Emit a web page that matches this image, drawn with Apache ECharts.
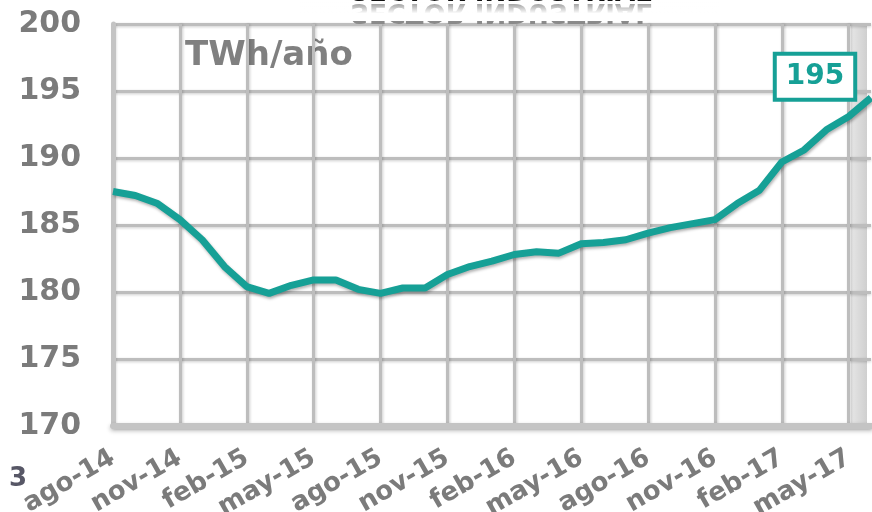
<!DOCTYPE html>
<html>
<head>
<meta charset="utf-8">
<script src="https://cdn.jsdelivr.net/npm/echarts@6/dist/echarts.min.js"></script>
<style>
  html, body { margin: 0; padding: 0; background: #fff; }
  #chart { width: 872px; height: 512px; }
</style>
</head>
<body>
<div id="chart"></div>
<script>
const months = [
  'ago-14', 'sep-14', 'oct-14', 'nov-14', 'dic-14', 'ene-15', 'feb-15', 'mar-15', 'abr-15',
  'may-15', 'jun-15', 'jul-15', 'ago-15', 'sep-15', 'oct-15', 'nov-15', 'dic-15', 'ene-16',
  'feb-16', 'mar-16', 'abr-16', 'may-16', 'jun-16', 'jul-16', 'ago-16', 'sep-16', 'oct-16',
  'nov-16', 'dic-16', 'ene-17', 'feb-17', 'mar-17', 'abr-17', 'may-17', 'jun-17'
]
// TWh/año, media móvil anual
const consumo = [
  187.5, 187.2, 186.6, 185.4, 183.9, 181.9, 180.4, 179.9, 180.5,
  180.9, 180.9, 180.2, 179.9, 180.3, 180.3, 181.3, 181.9, 182.3,
  182.8, 183.0, 182.9, 183.6, 183.7, 183.9, 184.4, 184.8, 185.1,
  185.4, 186.6, 187.6, 189.7, 190.6, 192.1, 193.1, 194.5
]
const yTicks = [170, 175, 180, 185, 190, 195, 200]

const teal = '#16a096'
const gris = '#7b7b7b'
const font = 'DejaVu Sans'

const chart = echarts.init(document.getElementById('chart'))

const lastIdx = consumo.length - 1
const seriesData = consumo.map((v, i) => {
  if (i !== lastIdx) return v
  return {
    value: v,
    label: {
      show: true,
      position: 'inside',
      offset: [-56, -21],
      formatter: p => Math.round(p.value),
      color: teal,
      fontFamily: font,
      fontWeight: 'bold',
      fontSize: 28,
      lineHeight: 31,
      backgroundColor: '#fff',
      borderColor: teal,
      borderWidth: 4,
      padding: [7, 9, 4, 9]
    }
  }
})

chart.setOption({
  animation: false,
  grid: {
    left: 113,
    right: 1,
    top: 24,
    bottom: 86,
    containLabel: false,
    outerBoundsMode: 'none'
  },
  graphic: [
    // right wall of the frame
    {
      type: 'rect',
      z: 0,
      shape: { x: 851, y: 24, width: 16, height: 404 },
      style: {
        fill: {
          type: 'linear', x: 0, y: 0, x2: 1, y2: 0,
          colorStops: [{ offset: 0, color: '#e6e6e6' }, { offset: 1, color: '#cfcfcf' }]
        }
      }
    },
    {
      type: 'text',
      left: 185,
      top: 39,
      style: {
        text: 'TWh/año',
        fill: '#808080',
        font: 'bold 34px "DejaVu Sans"'
      }
    },
    // title, cut by the top edge, with its reflection
    {
      type: 'text',
      x: 501,
      y: -2,
      scaleY: -1,
      z: 10,
      style: {
        text: 'SECTOR INDUSTRIAL',
        fill: '#8a8a8a',
        font: 'bold 26px "DejaVu Sans"',
        textAlign: 'center',
        textVerticalAlign: 'bottom'
      }
    },
    {
      type: 'rect',
      z: 11,
      shape: { x: 300, y: 2, width: 420, height: 19 },
      style: {
        fill: {
          type: 'linear', x: 0, y: 0, x2: 0, y2: 1,
          colorStops: [{ offset: 0, color: 'rgba(255,255,255,0.05)' }, { offset: 0.6, color: 'rgba(255,255,255,1)' }, { offset: 1, color: 'rgba(255,255,255,1)' }]
        }
      }
    },
    {
      type: 'text',
      x: 501,
      y: 7,
      z: 12,
      style: {
        text: 'SECTOR INDUSTRIAL',
        fill: '#111',
        font: 'bold 26px "DejaVu Sans"',
        textAlign: 'center',
        textVerticalAlign: 'bottom'
      }
    },
    {
      type: 'text',
      left: 9,
      top: 466,
      z: 12,
      style: {
        text: '3',
        fill: '#575766',
        font: 'bold 26px "DejaVu Sans"'
      }
    }
  ],
  xAxis: {
    type: 'category',
    data: months,
    boundaryGap: false,
    axisLine: {
      show: true,
      lineStyle: { color: '#c4c4c4', width: 6, shadowColor: 'rgba(0,0,0,0.25)', shadowBlur: 4, shadowOffsetY: 2 }
    },
    axisTick: { show: false },
    axisLabel: {
      interval: 2,
      rotate: 30,
      margin: 30,
      color: gris,
      fontFamily: font,
      fontWeight: 'bold',
      fontSize: 26
    },
    splitLine: {
      show: true,
      interval: 2,
      lineStyle: { color: '#bdbdbd', width: 3, shadowColor: 'rgba(0,0,0,0.2)', shadowBlur: 3, shadowOffsetX: 1 }
    }
  },
  yAxis: {
    type: 'value',
    min: yTicks[0],
    max: yTicks[yTicks.length - 1],
    interval: 5,
    axisLine: {
      show: true,
      lineStyle: { color: '#c4c4c4', width: 5 }
    },
    axisTick: { show: false },
    axisLabel: {
      margin: 32,
      color: gris,
      fontFamily: font,
      fontWeight: 'bold',
      fontSize: 30
    },
    splitLine: {
      show: true,
      lineStyle: { color: '#bdbdbd', width: 3, shadowColor: 'rgba(0,0,0,0.2)', shadowBlur: 3, shadowOffsetY: 1 }
    }
  },
  series: [
    {
      type: 'line',
      data: seriesData,
      symbol: 'circle',
      symbolSize: 0,
      showSymbol: true,
      z: 5,
      lineStyle: {
        color: teal,
        width: 7,
        shadowColor: 'rgba(0,0,0,0.3)',
        shadowBlur: 3,
        shadowOffsetX: 1,
        shadowOffsetY: 2
      }
    }
  ]
})
</script>
</body>
</html>
